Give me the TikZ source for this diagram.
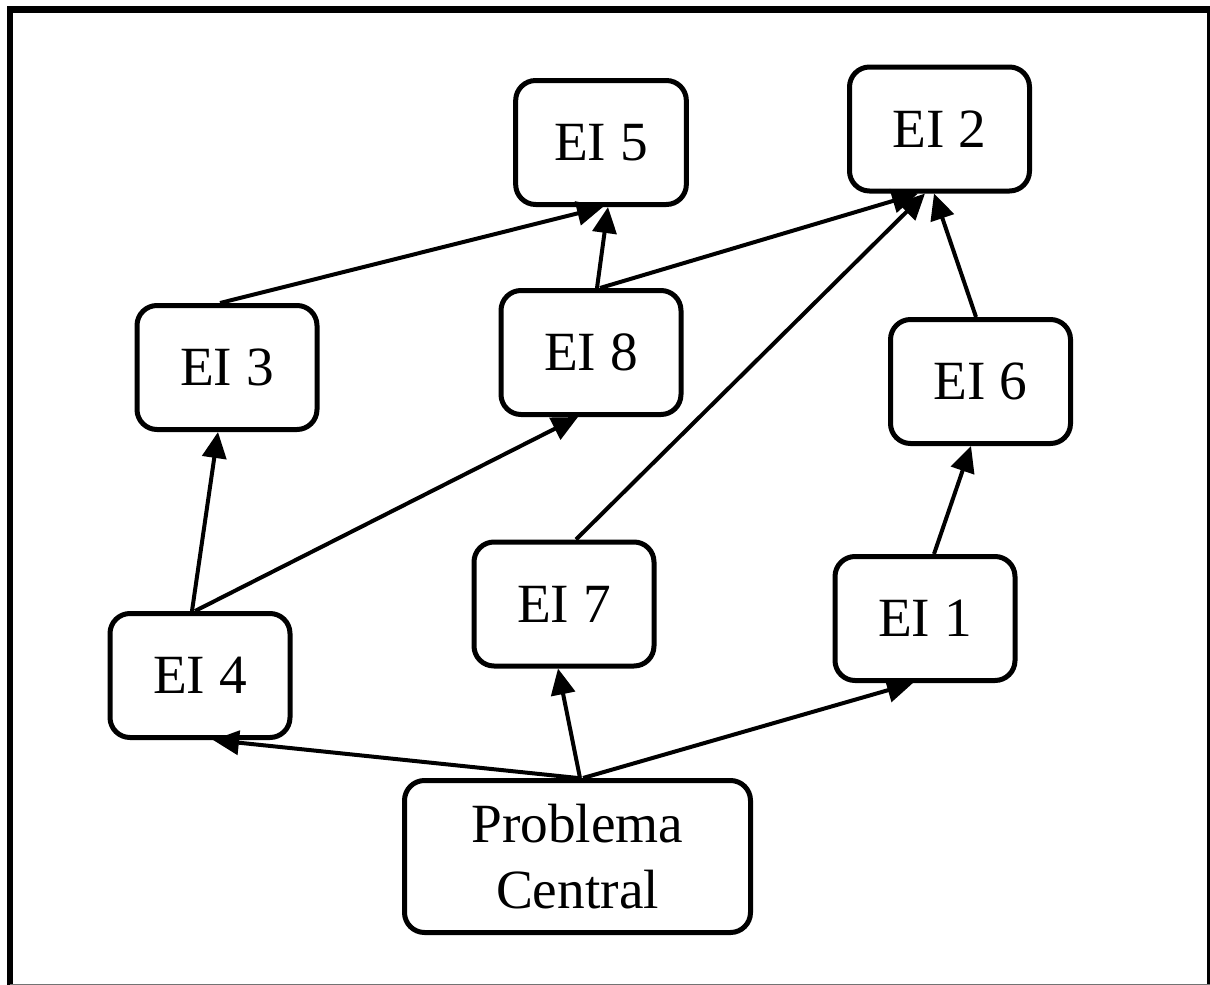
\documentclass[tikz,border=0pt]{standalone}
\usepackage{fontspec}
\setmainfont{Liberation Serif}
\usetikzlibrary{arrows.meta,calc}
\begin{document}
\begin{tikzpicture}[x=0.75pt,y=-0.75pt,
  box/.style={draw,line width=3.75pt,rounded corners=15pt,
    minimum width=135pt,minimum height=93pt,inner sep=0pt,
    font=\fontsize{41.5pt}{49.5pt}\selectfont,align=center},
  link/.style={line width=3pt,-{Triangle[length=19.5pt,width=18pt]}}]
\useasboundingbox (0,0) rectangle (1210,985);
% outer frame
\draw[line width=4.9pt] (10,990) -- (10,9.5) -- (1210,9.5) -- (1210,990);
\draw[line width=0.9pt,black!55] (10,984.5) -- (1210,984.5);
% boxes
\node[box,minimum width=128pt] (ei5) at (601,142.5) {EI 5};
\node[box] (ei2) at (939.5,129) {EI 2};
\node[box] (ei3) at (227,367.5) {EI 3};
\node[box] (ei8) at (591,352.5) {EI 8};
\node[box] (ei6) at (980.5,381.5) {EI 6};
\node[box] (ei7) at (564,604) {EI 7};
\node[box] (ei1) at (925,618.5) {EI 1};
\node[box] (ei4) at (200,675.5) {EI 4};
\node[box,minimum width=259.5pt,minimum height=114pt] (pc) at (577.5,856.5) {Problema\\Central};
% connections
\draw[link] ($(ei3.north)+(-7,0)$) -- ($(ei5.south)+(2,0)$);
\draw[link] ($(ei8.north)+(6,0)$) -- ($(ei5.south)+(7,0)$);
\draw[link] ($(ei8.north)+(9,0)$) -- ($(ei2.south)+(-21.5,0)$);
\draw[link] ($(ei7.north)+(12,0)$) -- ($(ei2.south)+(-14.5,0)$);
\draw[link] ($(ei6.north)+(-4.5,0)$) -- ($(ei2.south)+(-5.5,0)$);
\draw[link] ($(ei1.north)+(9,0)$) -- ($(ei6.south)+(-9.5,0)$);
\draw[link] ($(ei4.north)+(-8,0)$) -- ($(ei3.south)+(-9,0)$);
\draw[link] ($(ei4.north)+(-5,0)$) -- ($(ei8.south)+(-13,0)$);
\draw[link] ($(pc.north)+(0.5,0)$) -- ($(ei4.south)+(13,0)$);
\draw[link] ($(pc.north)+(2.5,0)$) -- ($(ei7.south)+(-6,0)$);
\draw[link] ($(pc.north)+(5.5,0)$) -- ($(ei1.south)+(-12,0)$);
\end{tikzpicture}
\end{document}
